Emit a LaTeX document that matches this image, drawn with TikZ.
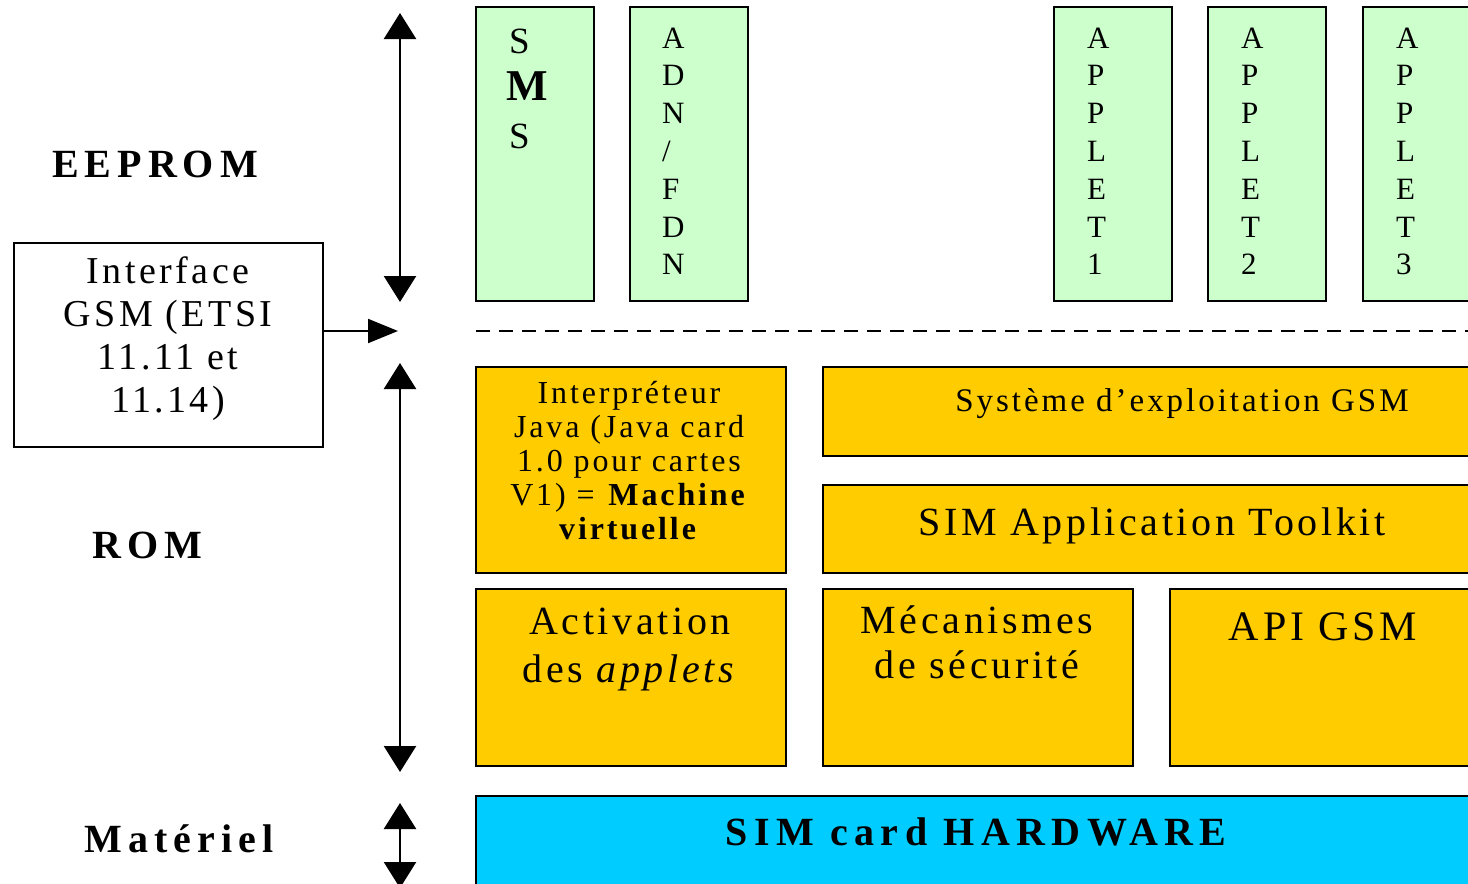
\documentclass[tikz,border=0pt]{standalone}
\usepackage{fontspec}
\setmainfont{Liberation Serif}[LetterSpace=9]
\usetikzlibrary{arrows.meta}

\definecolor{simgreen}{HTML}{CCFFCC}
\definecolor{simorange}{HTML}{FFCC00}
\definecolor{simcyan}{HTML}{00CCFF}

\tikzstyle{greenbox}=[draw,line width=2.5pt,fill=simgreen,minimum width=118pt,minimum height=294pt,anchor=north west,inner sep=0pt,outer sep=0pt]
\tikzstyle{orangebox}=[draw,line width=2.5pt,fill=simorange,anchor=north west,inner sep=0pt,outer sep=0pt]
\tikzstyle{memlabel}=[inner sep=0pt,anchor=base,font=\fontsize{40}{46}\selectfont\bfseries\addfontfeature{LetterSpace=15}]
\tikzstyle{vletter}=[inner sep=0pt,anchor=base west,font=\fontsize{31}{36}\selectfont]
\tikzstyle{boxtext}=[inner sep=0pt,align=center]
\tikzstyle{bus}=[line width=2.5pt,>={Triangle[width=32pt,length=26pt]},<->]

\begin{document}
\begin{tikzpicture}[x=1pt,y=-1pt]
	\useasboundingbox (0,0) rectangle (1468,884);
	\clip (0,0) rectangle (1468,884);
			% memory labels
			\node[memlabel] (eeprom) at (155,177) {EEPROM};
			\node[memlabel] (rom) at (147,558) {ROM};
			\node[memlabel] (hwlabel) at (179,852) {Matériel};
			% GSM interface
			\node[draw,line width=2pt,minimum width=309pt,minimum height=204pt,anchor=north west,inner sep=0pt,outer sep=0pt] (iface) at (14,243) {};
			\node[boxtext,anchor=north,font=\fontsize{38}{43}\selectfont] (ifacetext) at (168,257) {Interface\\GSM (ETSI\\11.11 et\\11.14)};
			% bus arrows
			\coordinate (eetop) at (400,13);
			\coordinate (eebot) at (400,302);
			\coordinate (romtop) at (400,363);
			\coordinate (rombot) at (400,772);
			\coordinate (hwtop) at (400,803);
			\coordinate (hwbot) at (400,888);
			\coordinate (bus) at (398,331);
			\draw[bus] (eetop) -- (eebot);
			\draw[bus] (romtop) -- (rombot);
			\draw[bus] (hwtop) -- (hwbot);
			\draw[line width=2pt,-{Triangle[width=24pt,length=30pt]}] (iface.east |- bus) -- (bus);
			% EEPROM boxes
			\foreach \name/\x in {sms/476,adn/630,app1/1054,app2/1208,app3/1363}
				\node[greenbox] (\name) at (\x,7) {};
			\node[vletter,font=\fontsize{37}{44}\selectfont] (sms-1) at (509,53) {S};
			\node[vletter,font=\fontsize{44}{50}\selectfont\bfseries] (sms-2) at (506,100) {M};
			\node[vletter,font=\fontsize{37}{44}\selectfont] (sms-3) at (509,148) {S};
			\foreach \ch [count=\i] in {A,D,N,/,F,D,N}
				\node[vletter] (adn-\i) at (662,{48+37.8*(\i-1)}) {\ch};
			\foreach \n/\x in {1/1087,2/1241,3/1396}
				\foreach \ch [count=\i] in {A,P,P,L,E,T,\n}
					\node[vletter] (app\n-\i) at (\x,{48+37.8*(\i-1)}) {\ch};
			\coordinate (dashstart) at (476,331);
			\coordinate (dashend) at (1468,331);
			\draw[line width=2pt,dash pattern=on 14pt off 9pt] (dashstart) -- (dashend);
			% ROM boxes
			\node[orangebox,minimum width=310pt,minimum height=206pt] (java) at (476,367) {};
			\node[orangebox,minimum width=660pt,minimum height=89pt] (sys) at (823,367) {};
			\node[orangebox,minimum width=660pt,minimum height=88pt] (sat) at (823,485) {};
			\node[orangebox,minimum width=310pt,minimum height=177pt] (act) at (476,589) {};
			\node[orangebox,minimum width=310pt,minimum height=177pt] (mec) at (823,589) {};
			\node[orangebox,minimum width=310pt,minimum height=177pt] (api) at (1170,589) {};
			\node[boxtext,anchor=north,font=\fontsize{32}{34}\selectfont] (javatext) at (629,381) {Interpréteur\\Java (Java card\\1.0 pour cartes\\V1) = \textbf{Machine}\\\textbf{virtuelle}};
			\node[boxtext,anchor=base,font=\fontsize{33}{40}\selectfont] (systext) at (1182,411) {Système d’exploitation GSM};
			\node[boxtext,anchor=base,font=\fontsize{40}{48}\selectfont] (sattext) at (1152,535) {SIM Application Toolkit};
			\node[boxtext,anchor=north,font=\fontsize{40}{48}\selectfont] (acttext) at (630,608) {Activation\\des \textit{applets}};
			\node[boxtext,anchor=north,font=\fontsize{40}{45}\selectfont] (mectext) at (977,605) {Mécanismes\\de sécurité};
			\node[boxtext,anchor=base,font=\fontsize{42}{50}\selectfont] (apitext) at (1323,640) {API GSM};
			% hardware
			\node[draw,line width=2.5pt,fill=simcyan,minimum width=1010pt,minimum height=100pt,anchor=north west,inner sep=0pt,outer sep=0pt] (hw) at (476,796) {};
			\node[boxtext,anchor=base,font=\fontsize{40}{48}\selectfont\bfseries\addfontfeature{LetterSpace=16}] (hwtext) at (976,845) {SIM card HARDWARE};
\end{tikzpicture}
\end{document}
